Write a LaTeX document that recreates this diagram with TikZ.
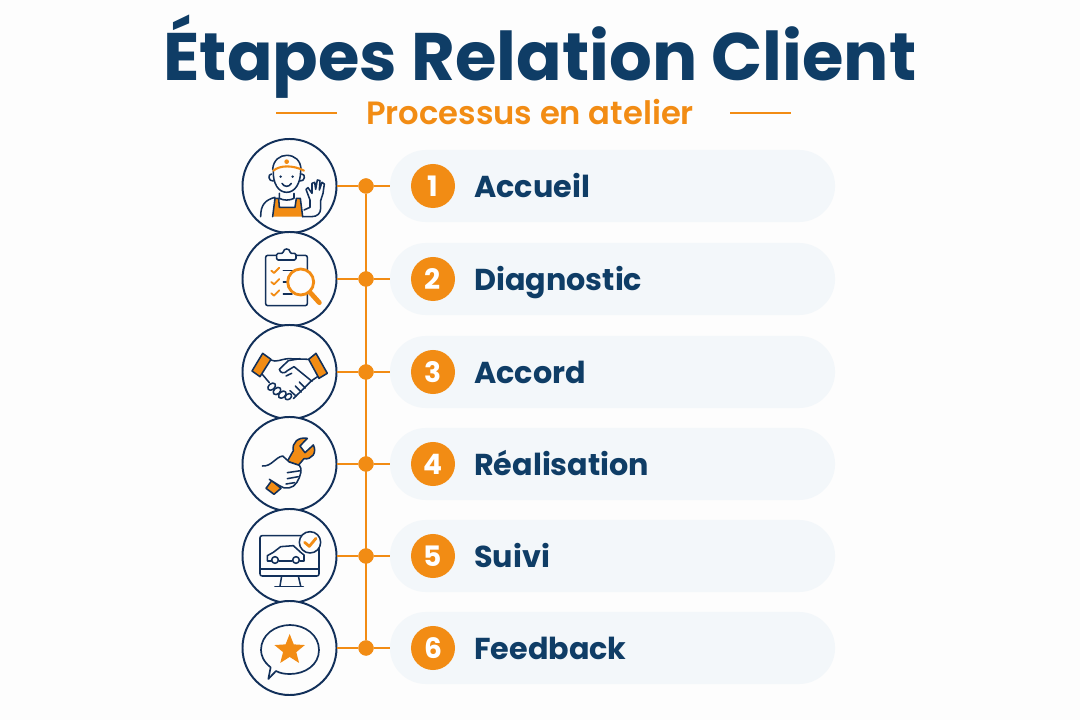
\documentclass[tikz,border=0pt]{standalone}
\usepackage{fontspec}
\setmainfont{Poppins}
\newfontfamily\subtitlefont{Poppins SemiBold}
\usetikzlibrary{shapes.geometric}
\definecolor{navy}{HTML}{0F3D66}
\definecolor{iconnavy}{HTML}{12305A}
\definecolor{amber}{HTML}{F28C14}
\definecolor{pillgrey}{HTML}{F3F7FA}
\definecolor{paper}{HTML}{FDFDFD}
\tikzset{
  iconcircle/.style={circle, draw=iconnavy, line width=1.4pt, fill=paper, minimum size=2.35cm, inner sep=0pt, outer sep=0pt},
  pill/.style={rectangle, rounded corners=0.9cm, fill=pillgrey, minimum width=11.125cm, minimum height=1.8cm, inner sep=0pt, outer sep=0pt},
  numdot/.style={circle, fill=amber, text=white, font=\bfseries\fontsize{20}{20}\selectfont, minimum size=1.1cm, inner sep=0pt},
  joint/.style={circle, fill=amber, minimum size=0.38cm, inner sep=0pt, outer sep=0pt},
  steplabel/.style={anchor=base west, text=navy, font=\bfseries\fontsize{21.5}{22}\selectfont, inner sep=0pt},
  wire/.style={draw=amber, line width=1.2pt},
  ink/.style={draw=iconnavy, line width=1.1pt, line join=round, line cap=round},
  hot/.style={draw=amber, line width=1.3pt, line join=round, line cap=round},
  zoomed/.style={x=0.008333cm, y=-0.008333cm}
}
\begin{document}
\begin{tikzpicture}[x=0.025cm, y=-0.025cm]
        \useasboundingbox (0, 0) rectangle (1080, 720);
        \fill [paper] (0, 0) rectangle (1080, 720);

        \node [anchor=base, text=navy, font=\bfseries\fontsize{47.8}{48}\selectfont, inner sep=0pt] (title) at (540, 81) {Étapes Relation Client};
        \node [anchor=base, text=amber, font=\subtitlefont\fontsize{22.9}{23}\selectfont, inner sep=0pt] (subtitle) at (530, 124.5) {Processus en atelier};
        \coordinate (ruleA) at (276, 113);
        \coordinate (ruleB) at (337, 113);
        \coordinate (ruleC) at (730, 113);
        \coordinate (ruleD) at (791, 113);
        \draw [wire] (ruleA) -- (ruleB);
        \draw [wire] (ruleC) -- (ruleD);

        \foreach \i/\y/\name in {1/186/Accueil, 2/279/Diagnostic, 3/372/Accord, 4/464/Réalisation, 5/556/Suivi, 6/648/Feedback}{
            \node [pill] (pill\i) at (612.5, \y) {};
            \node [iconcircle] (icon\i) at (289.5, \y) {};
            \node [joint] (joint\i) at (366, \y) {};
            \draw [wire] (icon\i) -- (joint\i) -- (pill\i);
            \node [numdot] (num\i) at (433, \y) {\i};
            \node [steplabel] (label\i) at (474, \y + 12) {\name};
        }
        \draw [wire] (joint1) -- (joint6);
        \foreach \i in {1, 2, 3, 4, 5, 6}{
            \node [joint] at (joint\i) {};
        }

        % worker
        \begin{scope}[shift={(230, 130)}, zoomed]
            \fill [amber] (130, 260) -- (135, 205) -- (146, 205) -- (148, 232) -- (195, 232) -- (199, 205) -- (211, 205) -- (218, 260) -- cycle;
            \draw [ink] (92, 260) .. controls (92, 225) and (105, 210) .. (135, 202);
            \draw [ink] (128, 260) -- (135, 205) -- (146, 205) -- (148, 232) -- (195, 232) -- (199, 205) -- (211, 205) -- (218, 260);
            \draw [ink] (148, 190) -- (148, 205) .. controls (160, 212) and (180, 212) .. (192, 205) -- (192, 190);
            \draw [ink] (130, 122) .. controls (128, 160) and (145, 187) .. (170, 187) .. controls (195, 187) and (212, 160) .. (212, 122);
            \draw [ink] (125, 132) .. controls (112, 132) and (115, 155) .. (130, 153);
            \draw [ink] (215, 132) .. controls (228, 132) and (225, 155) .. (210, 153);
            \draw [ink] (128, 118) .. controls (130, 90) and (150, 76) .. (170, 76) .. controls (195, 76) and (212, 92) .. (213, 118);
            \draw [hot, line width=1.5pt] (130, 122) .. controls (150, 105) and (190, 105) .. (222, 122);
            \fill [amber] (170, 95) circle (7);
            \fill [iconnavy] (152, 140) circle (4) (188, 140) circle (4);
            \draw [ink] (156, 160) .. controls (162, 172) and (178, 172) .. (184, 160);
            \draw [ink] (218, 260) -- (245, 260) .. controls (262, 260) and (272, 250) .. (272, 235) -- (272, 212) -- (279, 190) -- (283, 162) -- (276, 157) -- (268, 180) -- (270, 152) -- (262, 150) -- (257, 178) -- (254, 157) -- (246, 160) -- (246, 190) -- (234, 173) -- (228, 178) -- (240, 210) -- (240, 232) -- (222, 240);
        \end{scope}

        % clipboard
        \begin{scope}[shift={(230, 130)}, zoomed]
            \draw [ink, rounded corners=1.5pt] (140, 376) -- (107, 376) -- (107, 527) -- (232, 527) -- (232, 376) -- (198, 376);
            \draw [ink, rounded corners=1pt, fill=paper] (140, 390) -- (140, 370) -- (160, 370) .. controls (160, 354) and (180, 354) .. (180, 370) -- (198, 370) -- (198, 390) -- cycle;
            \foreach \cy in {422, 456, 490}{
                \draw [hot] (124, \cy) -- (132, \cy + 7) -- (148, \cy - 9);
            }
            \draw [ink] (160, 422) -- (192, 422);
            \draw [ink] (160, 456) -- (178, 456);
            \draw [ink] (160, 492) -- (186, 492);
            \draw [hot, line width=3.4pt] (240, 487) -- (268, 518);
            \draw [hot, line width=2pt, fill=paper] (212, 456) circle (39);
        \end{scope}

        % handshake
        \begin{scope}[shift={(230, 320)}, zoomed]
            \draw [ink] (122, 120) .. controls (140, 128) and (150, 118) .. (175, 116) -- (236, 118);
            \draw [ink] (96, 162) -- (118, 188);
            \draw [ink] (270, 165) -- (245, 182) -- (190, 236);
            \draw [ink] (210, 116) -- (175, 122) -- (148, 148) .. controls (150, 160) and (165, 162) .. (172, 152) -- (192, 140) -- (246, 184);
            \draw [ink] (185, 160) -- (168, 168);
            \draw [ink, fill=paper, rotate around={40:(125, 200)}] (125, 200) ellipse (13 and 9);
            \draw [ink, fill=paper, rotate around={40:(141, 213)}] (141, 213) ellipse (13 and 9);
            \draw [ink, fill=paper, rotate around={40:(157, 224)}] (157, 224) ellipse (13 and 9);
            \draw [ink, fill=paper, rotate around={40:(175, 230)}] (175, 230) ellipse (11 and 8);
            \draw [ink] (196, 198) -- (214, 216);
            \draw [ink] (208, 186) -- (226, 204);
            \draw [ink] (180, 212) -- (198, 228);
            \draw [ink, fill=amber] (98, 100) -- (123, 118) -- (90, 170) -- (66, 153) -- cycle;
            \draw [ink, fill=amber] (258, 100) -- (292, 160) -- (267, 175) -- (236, 118) -- cycle;
        \end{scope}

        % wrench
        \begin{scope}[shift={(230, 320)}, zoomed]
            \draw [ink, fill=amber] (108, 505) -- (125, 482) -- (153, 505) -- (132, 523) -- cycle;
            \draw [ink, fill=amber] (172, 424) -- (190, 392) .. controls (185, 368) and (205, 350) .. (232, 355) -- (210, 378) -- (225, 398) -- (250, 375) .. controls (262, 398) and (245, 420) .. (222, 416) -- (205, 436) -- cycle;
            \draw [ink, fill=paper] (97, 438) .. controls (125, 440) and (135, 412) .. (158, 408) -- (178, 426) -- (208, 436) .. controls (218, 445) and (212, 470) .. (200, 488) .. controls (190, 505) and (165, 510) .. (150, 498) -- (118, 478);
            \draw [ink] (172, 458) -- (212, 452);
            \draw [ink] (172, 476) -- (205, 470);
            \draw [ink] (168, 492) -- (194, 488);
        \end{scope}

        % monitor
        \begin{scope}[shift={(230, 505)}, zoomed]
            \draw [ink, rounded corners=1.5pt] (90, 92) rectangle (267, 213);
            \draw [ink] (90, 192) -- (267, 192);
            \draw [ink] (155, 213) -- (150, 243);
            \draw [ink] (205, 213) -- (212, 243);
            \draw [ink] (135, 244) -- (220, 244);
            \draw [ink] (125, 168) -- (112, 168) -- (112, 152) -- (130, 142) -- (152, 125) -- (190, 122) -- (212, 142) -- (222, 150) -- (222, 168) -- (210, 168);
            \draw [ink] (147, 168) -- (186, 168);
            \draw [ink] (135, 165) circle (10);
            \draw [ink] (198, 165) circle (10);
            \draw [ink, fill=paper] (240, 112) circle (32);
            \draw [hot, line width=2pt] (224, 112) -- (238, 124) -- (258, 100);
        \end{scope}

        % speech bubble
        \begin{scope}[shift={(230, 505)}, zoomed]
            \draw [ink, line width=1.2pt] (115, 522) -- (122, 487) .. controls (100, 470) and (93, 450) .. (93, 435) .. controls (93, 390) and (135, 360) .. (180, 360) .. controls (225, 360) and (267, 390) .. (267, 435) .. controls (267, 480) and (225, 507) .. (180, 507) .. controls (165, 507) and (150, 505) .. (138, 498) -- cycle;
            \node [star, star points=5, star point ratio=2.3, fill=amber, minimum size=0.8cm, inner sep=0pt, line join=round] (bubblestar) at (179, 435) {};
        \end{scope}
    \end{tikzpicture}
\end{document}
